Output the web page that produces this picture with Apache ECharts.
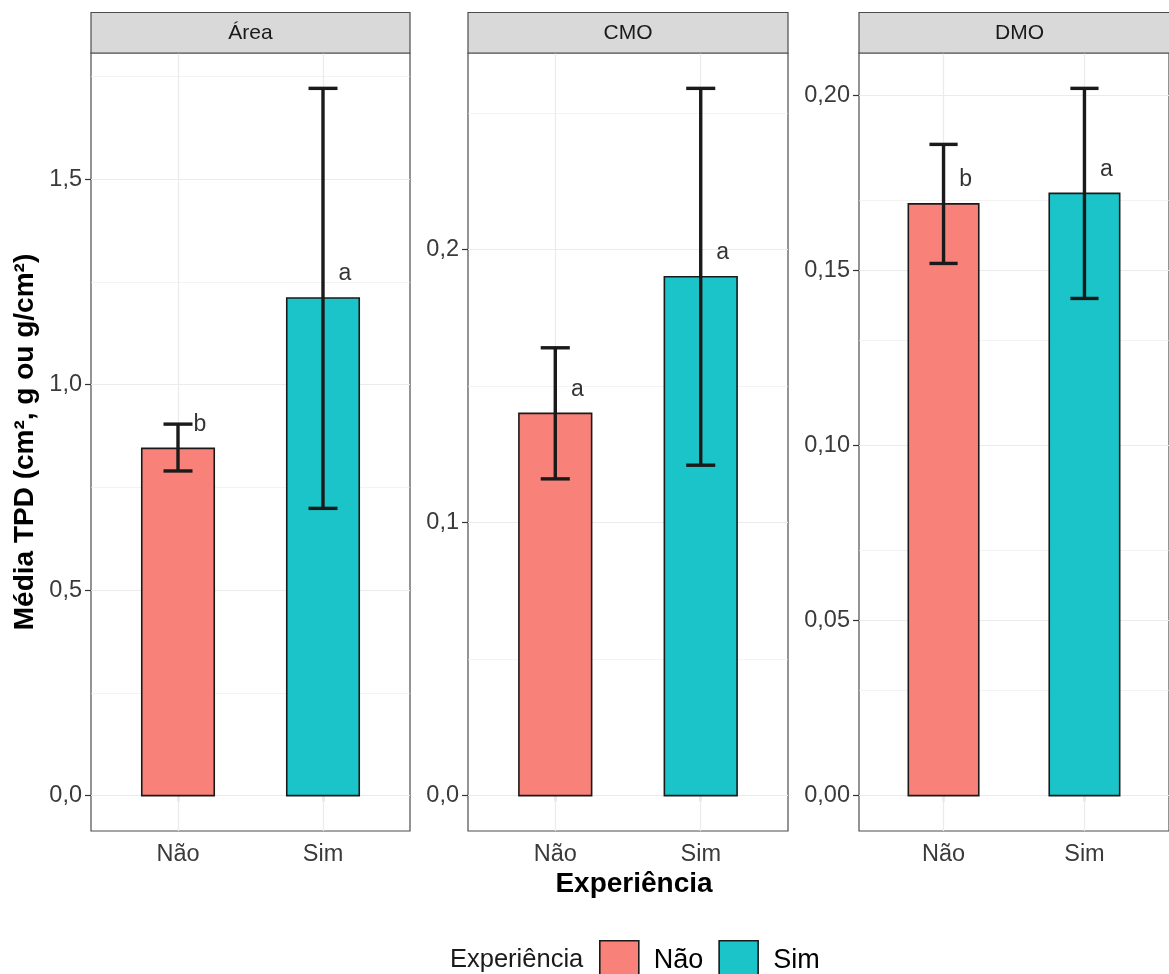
<!DOCTYPE html>
<html>
<head>
<meta charset="utf-8">
<title>Média TPD</title>
<script src="https://cdn.jsdelivr.net/npm/echarts@6/dist/echarts.min.js"></script>
<style>
html, body { margin: 0; padding: 0; background: #fff; }
#chart { width: 1169px; height: 974px; }
</style>
</head>
<body>
<div id="chart"></div>
<script>
// facetas e categorias
var panels = ['Área', 'CMO', 'DMO'];
var categories = ['Não', 'Sim'];

// médias e barras de erro
var meanArea = [0.845, 1.211];
var lowArea = [0.790, 0.699];
var highArea = [0.904, 1.721];
var meanCMO = [0.140, 0.190];
var lowCMO = [0.116, 0.121];
var highCMO = [0.164, 0.259];
var meanDMO = [0.169, 0.172];
var lowDMO = [0.152, 0.142];
var highDMO = [0.186, 0.202];

// letras de significância
var lettersArea = ['b', 'a'];
var lettersCMO = ['a', 'a'];
var lettersDMO = ['b', 'a'];

// marcas do eixo y
var ticksArea = [0, 0.5, 1.0, 1.5];
var ticksCMO = [0, 0.1, 0.2];
var ticksDMO = [0, 0.05, 0.10, 0.15, 0.20];
var minorArea = [0.25, 0.75, 1.25, 1.75];
var minorCMO = [0.05, 0.15, 0.25];
var minorDMO = [0.025, 0.075, 0.125, 0.175];
var decimals = [1, 1, 2];

var means = [meanArea, meanCMO, meanDMO];
var lows = [lowArea, lowCMO, lowDMO];
var highs = [highArea, highCMO, highDMO];
var letters = [lettersArea, lettersCMO, lettersDMO];
var ticks = [ticksArea, ticksCMO, ticksDMO];
var minors = [minorArea, minorCMO, minorDMO];

var colors = ['#f8827a', '#1bc4c8'];
var font = 'Liberation Sans, Arial, sans-serif';

// posição dos painéis
var panelLeft = [91, 468, 859];
var panelWidth = [319, 320, 321];
var panelTop = 53;
var panelHeight = 778;

var grids = [], xAxes = [], yAxes = [], series = [], graphics = [];

panels.forEach(function (name, i) {
    var top = Math.max.apply(null, highs[i]);
    var pad = top * 0.05;

    grids.push({
        left: panelLeft[i], top: panelTop, width: panelWidth[i], height: panelHeight,
        show: true, borderColor: '#4d4d4d', borderWidth: 1.2, backgroundColor: 'transparent'
    });

    xAxes.push({
        type: 'value', gridIndex: i, min: 0.4, max: 2.6,
        axisLine: { show: false },
        splitLine: { show: false },
        axisTick: { show: true, customValues: [1, 2], length: 6, lineStyle: { color: '#333', width: 1.2 } },
        axisLabel: {
            customValues: [1, 2], margin: 12, fontSize: 23.5, color: '#3a3a3a', fontFamily: font,
            formatter: function (v) { return categories[Math.round(v) - 1]; }
        }
    });

    yAxes.push({
        type: 'value', gridIndex: i, min: -pad, max: top + pad,
        axisLine: { show: false },
        splitLine: { show: false },
        axisTick: { show: true, customValues: ticks[i], length: 6, lineStyle: { color: '#333', width: 1.2 } },
        axisLabel: {
            customValues: ticks[i], margin: 9, fontSize: 23.5, color: '#3a3a3a', fontFamily: font,
            formatter: function (v) { return v.toFixed(decimals[i]).replace('.', ','); }
        }
    });

    // linhas de grade
    var lines = [];
    ticks[i].forEach(function (v) { lines.push({ yAxis: v, lineStyle: { width: 1.2 } }); });
    minors[i].forEach(function (v) { lines.push({ yAxis: v, lineStyle: { width: 0.6 } }); });
    [1, 2].forEach(function (v) { lines.push({ xAxis: v, lineStyle: { width: 1.2 } }); });
    series.push({
        type: 'line', name: 'grade' + i, xAxisIndex: i, yAxisIndex: i, data: [], z: 1, silent: true,
        markLine: {
            z: 1, silent: true, symbol: ['none', 'none'], label: { show: false },
            lineStyle: { color: '#ebebeb', type: 'solid' },
            data: lines
        }
    });

    // barras
    categories.forEach(function (cat, j) {
        series.push({
            type: 'custom', name: cat, xAxisIndex: i, yAxisIndex: i, z: 6,
            itemStyle: { color: colors[j] },
            encode: { x: 0, y: 1 },
            data: [[j + 1, means[i][j]]],
            renderItem: function (params, api) {
                var x = api.value(0), y = api.value(1);
                var p0 = api.coord([x - 0.25, y]);
                var p1 = api.coord([x + 0.25, 0]);
                return {
                    type: 'rect',
                    shape: { x: p0[0], y: p0[1], width: p1[0] - p0[0], height: p1[1] - p0[1] },
                    style: { fill: api.visual('color'), stroke: '#1a1a1a', lineWidth: 1.6 }
                };
            }
        });
    });

    // barras de erro
    var errData = categories.map(function (cat, j) { return [j + 1, lows[i][j], highs[i][j]]; });
    series.push({
        type: 'custom', name: 'erro' + i, xAxisIndex: i, yAxisIndex: i, z: 7,
        encode: { x: 0, y: [1, 2] },
        data: errData,
        renderItem: function (params, api) {
            var x = api.value(0);
            var lo = api.coord([x, api.value(1)]);
            var hi = api.coord([x, api.value(2)]);
            var l = api.coord([x - 0.1, 0])[0];
            var r = api.coord([x + 0.1, 0])[0];
            var st = { stroke: '#1a1a1a', lineWidth: 3.4 };
            return {
                type: 'group',
                children: [
                    { type: 'line', shape: { x1: lo[0], y1: lo[1], x2: hi[0], y2: hi[1] }, style: st },
                    { type: 'line', shape: { x1: l, y1: hi[1], x2: r, y2: hi[1] }, style: st },
                    { type: 'line', shape: { x1: l, y1: lo[1], x2: r, y2: lo[1] }, style: st }
                ]
            };
        }
    });

    // letras
    series.push({
        type: 'scatter', name: 'letras' + i, xAxisIndex: i, yAxisIndex: i, z: 8,
        symbolSize: 1, itemStyle: { color: 'transparent' }, silent: true,
        data: categories.map(function (cat, j) { return [j + 1, means[i][j]]; }),
        label: {
            show: true, position: 'inside', offset: [22, -24],
            fontSize: 23, color: '#000', fontFamily: font,
            formatter: function (p) { return letters[i][p.dataIndex]; }
        }
    });

    // faixa do título da faceta
    graphics.push({
        type: 'rect', z: 10,
        shape: { x: panelLeft[i], y: 12.5, width: panelWidth[i], height: 40.5 },
        style: { fill: '#d9d9d9', stroke: '#4d4d4d', lineWidth: 1.2 }
    });
    graphics.push({
        type: 'text', z: 11,
        x: panelLeft[i] + panelWidth[i] / 2, y: 33,
        style: { text: name, fontSize: 21, fill: '#1a1a1a', fontFamily: font, textAlign: 'center', textVerticalAlign: 'middle' }
    });
});

graphics.push({
    type: 'text', x: 25, y: 442, rotation: Math.PI / 2,
    style: { text: 'Média TPD (cm², g ou g/cm²)', fontSize: 28, fontWeight: 'bold', fill: '#000', fontFamily: font, textAlign: 'center', textVerticalAlign: 'middle' }
});
graphics.push({
    type: 'text', x: 634, y: 884,
    style: { text: 'Experiência', fontSize: 28, fontWeight: 'bold', fill: '#000', fontFamily: font, textAlign: 'center', textVerticalAlign: 'middle' }
});
graphics.push({
    type: 'text', x: 450, y: 960,
    style: { text: 'Experiência', fontSize: 25.5, fill: '#1a1a1a', fontFamily: font, textAlign: 'left', textVerticalAlign: 'middle' }
});

var option = {
    animation: false,
    backgroundColor: '#fff',
    grid: grids,
    xAxis: xAxes,
    yAxis: yAxes,
    legend: {
        data: categories, left: 599, top: 940, padding: 0,
        icon: 'rect', itemWidth: 39, itemHeight: 40, itemGap: 15,
        itemStyle: { borderColor: '#1a1a1a', borderWidth: 1.6 },
        textStyle: { fontSize: 27, color: '#000', fontFamily: font, padding: [0, 0, 0, 10] }
    },
    graphic: graphics,
    series: series
};

var chart = echarts.init(document.getElementById('chart'));
chart.setOption(option);
</script>
</body>
</html>
